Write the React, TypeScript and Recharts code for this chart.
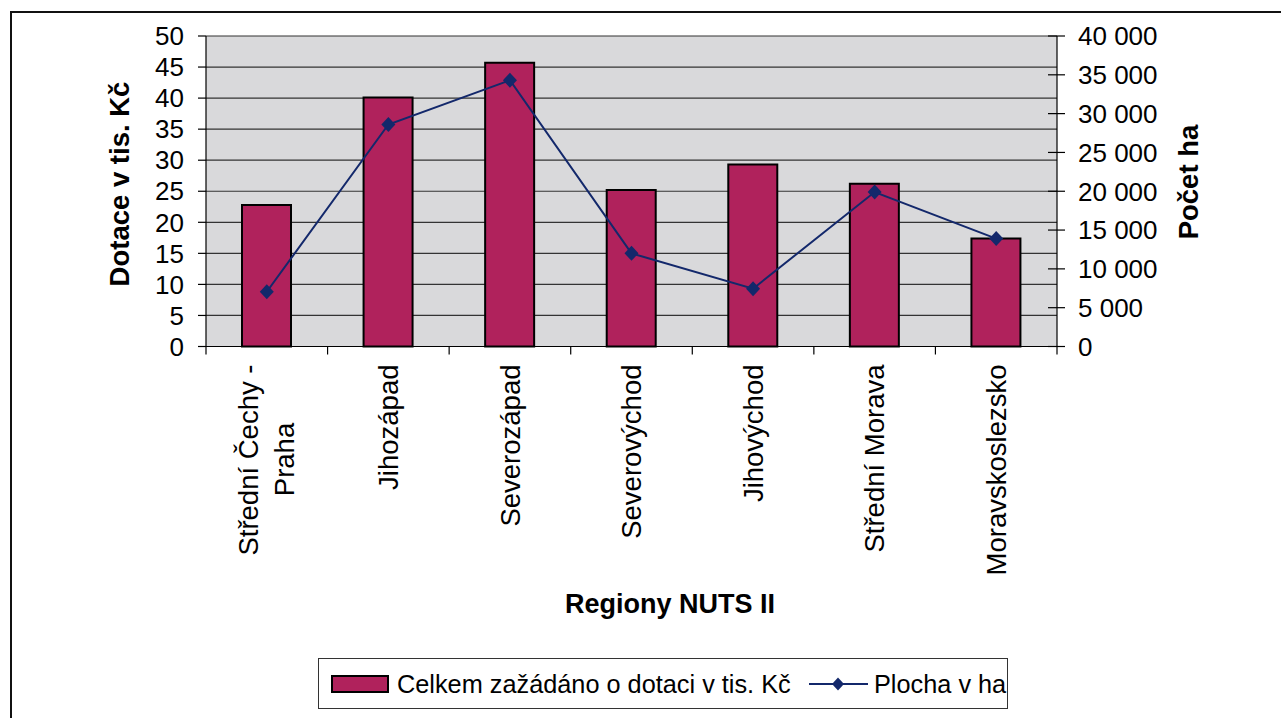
import React from 'react';
import { ComposedChart, Bar, Line, XAxis, YAxis, CartesianGrid } from 'recharts';

const regions = [
  'Střední Čechy - Praha',
  'Jihozápad',
  'Severozápad',
  'Severovýchod',
  'Jihovýchod',
  'Střední Morava',
  'Moravskoslezsko',
];
const dotace = [22.8, 40.1, 45.7, 25.2, 29.3, 26.2, 17.4];
const plocha = [7050, 28600, 34300, 12000, 7450, 19900, 13900];
const leftTicks = [0, 5, 10, 15, 20, 25, 30, 35, 40, 45, 50];
const rightTicks = [0, 5000, 10000, 15000, 20000, 25000, 30000, 35000, 40000];

const barName = 'Celkem zažádáno o dotaci v tis. Kč';
const lineName = 'Plocha v ha';
const leftTitle = 'Dotace v tis. Kč';
const rightTitle = 'Počet ha';
const xTitle = 'Regiony NUTS II';

const data = regions.map((region, i) => ({ region, dotace: dotace[i], plocha: plocha[i] }));

const FONT = '"Liberation Sans", Arial, sans-serif';
const BAR = '#b0225c';
const NAVY = '#13286b';
const LABEL_SIZE = 27.5;

const fmt = (v: number) => String(v).replace(/\B(?=(\d{3})+(?!\d))/g, ' ');

const Diamond = (props: any) => {
  const { cx, cy } = props;
  if (cx == null || cy == null) return null;
  return <path d={`M${cx},${cy - 7.5} L${cx + 7},${cy} L${cx},${cy + 7.5} L${cx - 7},${cy} Z`} fill={NAVY} />;
};

const RegionTick = (props: any) => {
  const { x, y, payload, index } = props;
  const half = payload?.offset || 60.8;
  const parts = String(payload.value).split(' - ');
  const lines = parts.length > 1 ? [parts[0] + ' -', parts[1]] : [parts[0]];
  return (
    <g>
      <line x1={x - half} x2={x - half} y1={y} y2={y + 8} stroke="#000" strokeWidth={1.2} />
      {index === regions.length - 1 && (
        <line x1={x + half} x2={x + half} y1={y} y2={y + 8} stroke="#000" strokeWidth={1.2} />
      )}
      <g transform={`translate(${x},${y + 18}) rotate(-90)`}>
        {lines.length === 1 ? (
          <text x={0} y={0} dy="0.35em" textAnchor="end" fontSize={LABEL_SIZE} fontFamily={FONT} fill="#000">
            {lines[0]}
          </text>
        ) : (
          <>
            <text x={0} y={-18} dy="0.35em" textAnchor="end" fontSize={LABEL_SIZE} fontFamily={FONT} fill="#000">
              {lines[0]}
            </text>
            <text x={-95} y={18} dy="0.35em" textAnchor="middle" fontSize={LABEL_SIZE} fontFamily={FONT} fill="#000">
              {lines[1]}
            </text>
          </>
        )}
      </g>
    </g>
  );
};

const RightTick = (props: any) => {
  const { x, y, payload } = props;
  return (
    <g>
      <line x1={x - 9} x2={x + 8} y1={y} y2={y} stroke="#000" strokeWidth={1.2} />
      <text x={x + 21} y={y} dy="0.36em" textAnchor="start" fontSize={26} fontFamily={FONT} fill="#000">
        {fmt(payload.value)}
      </text>
    </g>
  );
};

export default function App() {
  return (
    <div style={{ position: 'relative', width: 1281, height: 718, overflow: 'hidden', background: '#fff' }}>
      <style>{'body{margin:0;overflow:hidden;}'}</style>
      <div
        style={{
          position: 'absolute', left: 10, top: 11, width: 1300, height: 740,
          border: '2.5px solid #111', boxSizing: 'border-box',
        }}
      />
      <div style={{ position: 'absolute', left: 0, top: 0 }}>
        <ComposedChart
          width={1281}
          height={718}
          data={data}
          margin={{ top: 36, right: 0, bottom: 71.5, left: 0 }}
          barCategoryGap="30%"
        >
          <CartesianGrid yAxisId="left" vertical={false} fill="#d9d9db" stroke="#333" strokeWidth={1.2} />
          <XAxis
            dataKey="region"
            height={300}
            interval={0}
            tickSize={0}
            tickMargin={0}
            tickLine={false}
            axisLine={{ stroke: '#000', strokeWidth: 1.2 }}
            tick={<RegionTick />}
          />
          <YAxis
            yAxisId="left"
            width={206}
            domain={[0, 50]}
            ticks={leftTicks}
            interval={0}
            tickSize={8}
            tickMargin={14}
            axisLine={{ stroke: '#000', strokeWidth: 1.2 }}
            tickLine={{ stroke: '#000', strokeWidth: 1.2 }}
            tick={{ fontSize: 26, fontFamily: FONT, fill: '#000' }}
          />
          <YAxis
            yAxisId="right"
            orientation="right"
            width={224}
            domain={[0, 40000]}
            ticks={rightTicks}
            interval={0}
            tickSize={0}
            tickMargin={0}
            tickLine={false}
            axisLine={{ stroke: '#000', strokeWidth: 1.2 }}
            tick={<RightTick />}
          />
          <Bar
            yAxisId="left"
            dataKey="dotace"
            name={barName}
            fill={BAR}
            stroke="#000"
            strokeWidth={2}
            barSize={49}
            isAnimationActive={false}
          />
          <Line
            yAxisId="right"
            dataKey="plocha"
            name={lineName}
            type="linear"
            stroke={NAVY}
            strokeWidth={2}
            dot={<Diamond />}
            activeDot={false}
            isAnimationActive={false}
          />
        </ComposedChart>
      </div>
      <svg width={1281} height={718} style={{ position: 'absolute', left: 0, top: 0, pointerEvents: 'none' }}>
        <text transform="translate(129,184) rotate(-90)" textAnchor="middle" fontSize={27.5} fontWeight="bold" fontFamily={FONT} fill="#000">
          {leftTitle}
        </text>
        <text transform="translate(1198,182) rotate(-90)" textAnchor="middle" fontSize={27.5} fontWeight="bold" fontFamily={FONT} fill="#000">
          {rightTitle}
        </text>
        <text x={670} y={613} textAnchor="middle" fontSize={27} fontWeight="bold" fontFamily={FONT} fill="#000">
          {xTitle}
        </text>
      </svg>
      <div
        style={{
          position: 'absolute', left: 318, top: 658, width: 690, height: 51,
          border: '1.5px solid #333', boxSizing: 'border-box', background: '#fff',
          fontFamily: FONT, fontSize: 25, color: '#000',
        }}
      >
        <svg width={690} height={51} style={{ position: 'absolute', left: 0, top: 0 }}>
          <rect x={13} y={17} width={56} height={16} fill={BAR} stroke="#000" strokeWidth={2} />
          <text x={78} y={34} fontSize={25.3} fontFamily={FONT} fill="#000">{barName}</text>
          <line x1={490} x2={549} y1={25} y2={25} stroke={NAVY} strokeWidth={2} />
          <path d="M519,18.5 L525,25 L519,31.5 L513,25 Z" fill={NAVY} />
          <text x={555} y={34} fontSize={25.3} fontFamily={FONT} fill="#000">{lineName}</text>
        </svg>
      </div>
    </div>
  );
}
